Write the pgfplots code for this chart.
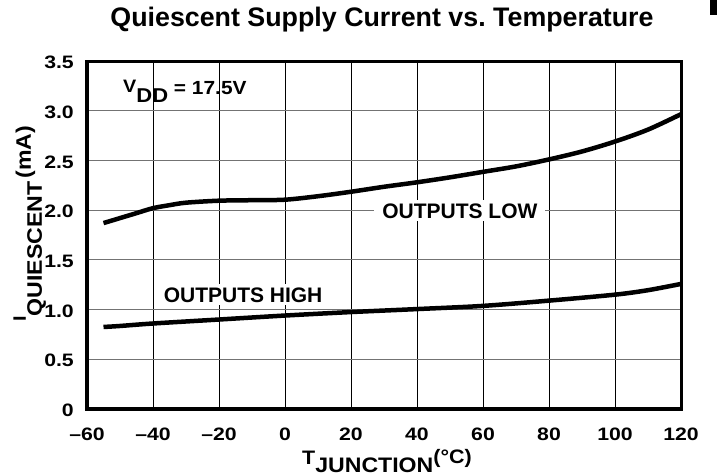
\documentclass[border=0pt]{standalone}
\usepackage{fontspec}
\setmainfont{Liberation Sans}
\newfontfamily\tickfont{Liberation Sans Bold}[FakeStretch=1.18]
\newfontfamily\lab{Liberation Sans Bold}[FakeStretch=1.1]
\usepackage{pgfplots}
\pgfplotsset{compat=1.18}
\newcommand{\fs}[1]{\fontsize{#1bp}{#1bp}\selectfont}
\frenchspacing
\begin{document}
\begin{tikzpicture}
\useasboundingbox (-87bp,-67bp) rectangle (630bp,409bp);
\begin{axis}[
 at={(0,0)}, anchor=south west, scale only axis,
 width=594bp, height=348bp,
 xmin=-60, xmax=120, ymin=0, ymax=3.5,
 xtick={-60,-40,-20,0,20,40,60,80,100,120},
 xticklabels={–60,–40,–20,0,20,40,60,80,100,120},
 ytick={0,0.5,1,1.5,2,2.5,3,3.5},
 yticklabels={0,0.5,1.0,1.5,2.0,2.5,3.0,3.5},
 major tick length=0pt,
 xmajorgrids, ymajorgrids,
 x grid style={black, line width=0.9bp},
 y grid style={black!55, line width=1.2bp},
 axis line style={line width=3bp},
 tick label style={font={\tickfont\fs{18}}, inner sep=0pt},
 xticklabel style={anchor=base, yshift=-31bp},
 yticklabel style={anchor=east, xshift=-13bp, yshift=-1.5bp},
 clip=false,
]
\addplot[black, line width=4.5bp, smooth] coordinates {
(-55,1.87) (-50,1.92) (-45,1.97) (-40,2.02) (-35,2.05) (-30,2.075) (-20,2.095)
(-10,2.10) (0,2.105) (10,2.14) (20,2.185) (30,2.235) (40,2.28) (50,2.33)
(60,2.385) (70,2.44) (80,2.51) (90,2.59) (100,2.69) (110,2.81) (120,2.965)};
\addplot[black, line width=4.5bp, smooth] coordinates {
(-55,0.825) (-50,0.835) (-40,0.86) (-20,0.90) (0,0.94) (20,0.975) (40,1.005)
(60,1.037) (80,1.09) (100,1.15) (110,1.195) (120,1.258)};
\node[anchor=base, fill=white, inner xsep=8bp, inner ysep=3bp, font={\bfseries\fs{21}}] at (axis cs:53,1.92) {OUTPUTS LOW};
\node[anchor=base, fill=white, inner xsep=6bp, inner ysep=3bp, font={\bfseries\fs{21}}] at (axis cs:-12.7,1.076) {OUTPUTS HIGH};
\node[anchor=base west, inner sep=0pt] at (axis cs:-49.1,3.18) {\lab\fs{18}V\raisebox{-10bp}{\fs{20}DD}\fs{19}\raisebox{-1.5bp}{ = 17.5V}};
\end{axis}
\node[anchor=base, inner sep=0pt, font={\bfseries\fs{26.8}}] at (295bp,382bp) {Quiescent Supply Current vs. Temperature};
\node[anchor=base west, inner sep=0pt] at (215bp,-55bp) {\lab\fs{19.5}T\raisebox{-8bp}{\fs{21}JUNCTION}\fs{19.5}\raisebox{1bp}{(°C)}};
\node[anchor=base west, inner sep=0pt, rotate=90] at (-61bp,87bp) {\lab\fs{18}I\raisebox{-16bp}{\fs{21}QUIESCENT}\fs{21}\hspace{3bp}\raisebox{-5bp}{(mA)}};
\fill[black] (623bp,394bp) rectangle (630bp,409bp);
\end{tikzpicture}
\end{document}
